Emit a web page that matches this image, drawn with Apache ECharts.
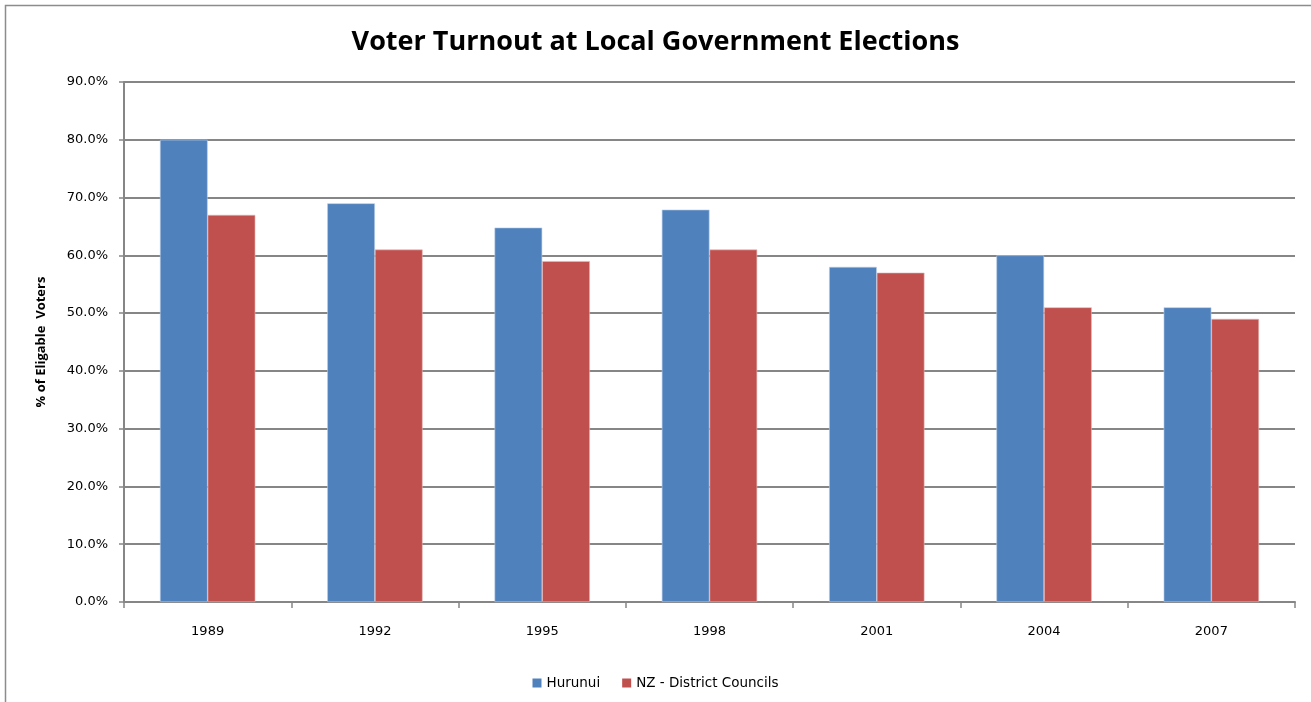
<!DOCTYPE html>
<html>
<head>
<meta charset="utf-8">
<script src="https://cdn.jsdelivr.net/npm/echarts@6/dist/echarts.min.js"></script>
<style>
  html, body { margin: 0; padding: 0; background: #fff; }
  #chart { width: 1311px; height: 702px; }
</style>
</head>
<body>
<div id="chart"></div>
<script>
// Election years and turnout (% of eligible voters)
const years = ['1989', '1992', '1995', '1998', '2001', '2004', '2007'];
const hurunui = [80, 69, 64.8, 67.9, 58, 60, 51];
const nzDistrict = [67, 61, 59, 61, 57, 51, 49];
const yTicks = { min: 0, max: 90, interval: 10 };

const titleFont = 'Open Sans, Liberation Sans, sans-serif';
const font = 'DejaVu Sans, Open Sans, sans-serif';
const chart = echarts.init(document.getElementById('chart'));

chart.setOption({
  animation: false,
  backgroundColor: '#fff',
  graphic: [{
    type: 'rect',
    shape: { x: 5.5, y: 5.5, width: 1320, height: 720 },
    style: { fill: 'none', stroke: '#8c8c8c', lineWidth: 1.5 },
    silent: true
  }],
  title: {
    text: 'Voter Turnout at Local Government Elections',
    left: 'center', top: 24,
    textStyle: { fontFamily: titleFont, fontSize: 27, fontWeight: 'bold', color: '#000' }
  },
  legend: {
    data: ['Hurunui', 'NZ - District Councils'],
    left: 'center', top: 671,
    itemWidth: 9, itemHeight: 9, itemGap: 22,
    icon: 'rect',
    itemStyle: { borderWidth: 0 },
    textStyle: { fontFamily: font, fontSize: 13.5, color: '#000', padding: [0, 0, 0, 0] }
  },
  grid: { left: 124, right: 16, top: 82, bottom: 100, containLabel: false },
  xAxis: {
    type: 'category',
    data: years,
    axisLine: { lineStyle: { color: '#868686', width: 2 } },
    axisTick: { show: true, length: 6, alignWithLabel: false, lineStyle: { color: '#868686', width: 1.5 } },
    axisLabel: { fontFamily: font, fontSize: 13, color: '#000', margin: 23 }
  },
  yAxis: {
    type: 'value',
    min: yTicks.min, max: yTicks.max, interval: yTicks.interval,
    name: '% of Eligable  Voters',
    nameLocation: 'middle', nameGap: 76, nameRotate: 90,
    nameTextStyle: { fontFamily: titleFont, fontSize: 13, fontWeight: 'bold', color: '#000' },
    axisLine: { show: true, lineStyle: { color: '#868686', width: 2 } },
    axisTick: { show: true, length: 5, lineStyle: { color: '#868686', width: 1.5 } },
    axisLabel: {
      fontFamily: font, fontSize: 13, color: '#000', margin: 16,
      formatter: v => v.toFixed(1) + '%'
    },
    splitLine: { lineStyle: { color: '#868686', width: 2 } }
  },
  series: [
    {
      name: 'Hurunui', type: 'bar', data: hurunui,
      barGap: '0%', barCategoryGap: '43%',
      itemStyle: { color: '#4f81bd', borderColor: '#b9cde5', borderWidth: 0.6 }
    },
    {
      name: 'NZ - District Councils', type: 'bar', data: nzDistrict,
      barGap: '0%', barCategoryGap: '43%',
      itemStyle: { color: '#c0504d', borderColor: '#e6b9b8', borderWidth: 0.6 }
    }
  ]
});
</script>
</body>
</html>
